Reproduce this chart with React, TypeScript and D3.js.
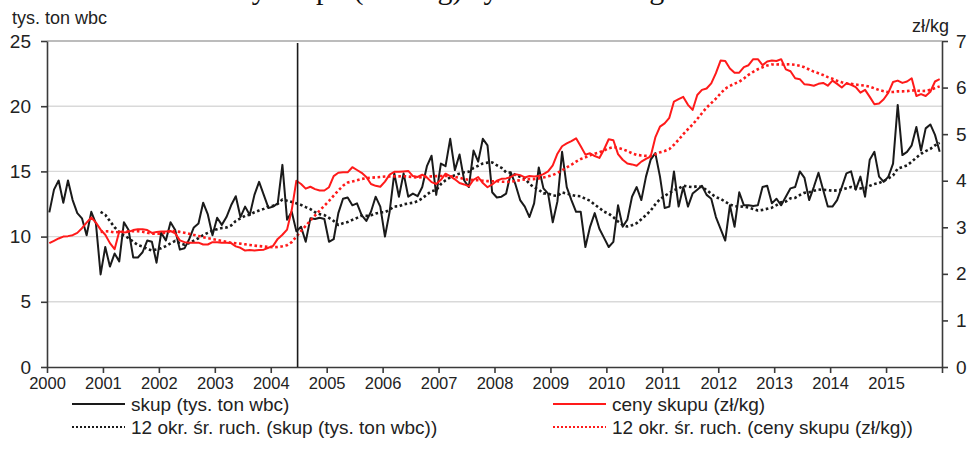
import React, { useEffect, useRef } from "react";
import * as d3 from "d3";

// monthly data, Jan 2000 - Dec 2015
const startYear = 2000;
const yearLabels = ["2000", "2001", "2002", "2003", "2004", "2005", "2006", "2007", "2008", "2009", "2010", "2011", "2012", "2013", "2014", "2015"];
const leftTicks = [0, 5, 10, 15, 20, 25];
const rightTicks = [0, 1, 2, 3, 4, 5, 6, 7];

// skup (tys. ton wbc)
const skup = [
  11.86, 13.6, 14.3, 12.6, 14.3, 12.8, 11.8, 11.4, 10.1, 11.9, 11.0, 7.1,
  9.2, 7.7, 8.7, 8.1, 11.1, 10.5, 8.4, 8.4, 8.8, 9.7, 9.6, 8.0,
  10.3, 9.7, 11.1, 10.5, 9.0, 9.1, 9.8, 10.7, 11.0, 12.6, 11.7, 10.1,
  11.45, 10.9, 11.5, 12.4, 13.1, 11.5, 12.3, 11.65, 13.2, 14.2, 13.2, 12.2,
  12.3, 12.55, 15.5, 11.3, 11.9, 10.4, 10.75, 9.6, 11.4, 11.35, 11.45, 11.35,
  9.6, 9.8, 11.8, 12.9, 13.0, 12.4, 12.55, 11.65, 11.2, 11.9, 13.06, 12.3,
  10.0, 11.9, 14.85, 13.06, 14.85, 13.06, 13.3, 13.1, 13.8, 15.4, 16.2, 13.2,
  15.6, 15.4, 17.5, 15.1, 16.3, 14.3, 13.8, 16.6, 15.75, 17.5, 17.0, 13.4,
  13.0, 13.06, 13.3, 14.9, 14.0, 12.8, 12.3, 11.5, 12.55, 15.3, 13.7, 13.3,
  11.1, 12.7, 16.5, 13.8, 12.8, 11.9, 11.9, 9.2, 10.75, 11.8, 10.6, 9.9,
  9.2, 9.6, 12.4, 10.75, 11.3, 13.06, 13.8, 12.8, 14.6, 15.9, 16.4, 14.6,
  12.2, 12.3, 15.0, 12.3, 13.8, 12.3, 13.3, 13.6, 13.9, 13.2, 12.9, 11.5,
  10.6, 9.7, 12.4, 10.75, 13.4, 12.4, 12.4, 12.35, 12.4, 13.8, 13.9, 12.55,
  12.9, 12.4, 13.06, 13.7, 13.8, 15.0, 14.5, 12.8, 13.8, 14.9, 13.6, 12.3,
  12.3, 12.8, 13.8, 14.85, 15.0, 13.6, 14.6, 13.06, 15.9, 16.5, 14.6, 14.2,
  14.6, 15.6, 20.1, 16.25, 16.5, 17.0, 18.4, 16.6, 18.3, 18.6, 17.8, 16.5,
];

// ceny skupu (zł/kg)
const ceny = [
  2.66, 2.71, 2.76, 2.8, 2.81, 2.83, 2.88, 2.98, 3.1, 3.21, 3.1, 2.95,
  2.84, 2.66, 2.53, 2.91, 2.89, 2.9, 2.94, 2.96, 2.96, 2.94, 2.88, 2.9,
  2.91, 2.91, 2.92, 2.87, 2.72, 2.68, 2.67, 2.67, 2.67, 2.63, 2.63, 2.68,
  2.68, 2.67, 2.67, 2.66, 2.59, 2.56, 2.5, 2.51, 2.5, 2.51, 2.52, 2.56,
  2.6, 2.75, 2.84, 2.95, 3.37, 4.0, 3.93, 3.83, 3.87, 3.82, 3.79, 3.79,
  3.86, 4.1, 4.17, 4.18, 4.18, 4.29, 4.23, 4.17, 4.08, 3.93, 3.89, 3.87,
  3.98, 4.13, 4.19, 4.19, 4.2, 4.21, 4.1, 4.08, 4.13, 4.07, 3.97, 3.93,
  4.02, 4.15, 4.1, 4.03, 3.95, 3.92, 3.88, 4.02, 4.08, 3.95, 3.86, 3.92,
  4.0, 4.04, 4.05, 4.08, 4.14, 4.12, 4.07, 4.1, 4.09, 4.1, 4.14, 4.2,
  4.33, 4.58, 4.74, 4.8, 4.85, 4.91, 4.74, 4.56, 4.59, 4.53, 4.49, 4.67,
  4.89, 4.87, 4.57, 4.45, 4.37, 4.35, 4.32, 4.41, 4.47, 4.52, 4.93, 5.16,
  5.23, 5.35, 5.7, 5.75, 5.8, 5.63, 5.52, 5.84, 5.95, 5.98, 6.09, 6.31,
  6.58, 6.57, 6.41, 6.32, 6.32, 6.44, 6.48, 6.61, 6.61, 6.48, 6.56, 6.58,
  6.57, 6.61, 6.39, 6.35, 6.2, 6.18, 6.07, 6.06, 6.04, 6.08, 6.1, 6.04,
  6.15, 6.08, 6.0, 6.09, 6.06, 6.01, 5.89, 5.95, 5.8, 5.64, 5.66, 5.75,
  5.89, 6.12, 6.15, 6.1, 6.13, 6.2, 5.82, 5.86, 5.82, 5.91, 6.13, 6.18,
];

const maPeriod = 12;
const markerYear = 2004.48; // vertical line (mid 2004)

const legendItems = [
  { label: "skup (tys. ton wbc)", color: "#1a1a1a", dotted: false, col: 0, row: 0 },
  { label: "ceny skupu (zł/kg)", color: "#ff1a1a", dotted: false, col: 1, row: 0 },
  { label: "12 okr. śr. ruch. (skup (tys. ton wbc))", color: "#1a1a1a", dotted: true, col: 0, row: 1 },
  { label: "12 okr. śr. ruch. (ceny skupu (zł/kg))", color: "#ff1a1a", dotted: true, col: 1, row: 1 },
];

const font = "'Liberation Sans', Arial, sans-serif";

// trailing moving average, as the spreadsheet trendline does
const movingAverage = (arr: number[], n: number) =>
  arr.map((_, i) => (i < n - 1 ? null : d3.mean(arr.slice(i - n + 1, i + 1)) as number));

const App = () => {
  const svgRef = useRef<SVGSVGElement>(null);

  useEffect(() => {
    const width = 971;
    const height = 459;
    const margin = { top: 41, right: 29, bottom: 92, left: 47 };

    const svg = d3.select(svgRef.current).attr("width", width).attr("height", height);
    svg.selectAll("*").remove();

    const x = d3
      .scaleLinear()
      .domain([0, skup.length])
      .range([margin.left, width - margin.right]);
    const yLeft = d3
      .scaleLinear()
      .domain([0, 25])
      .range([height - margin.bottom, margin.top]);
    const yRight = d3
      .scaleLinear()
      .domain([0, 7])
      .range([height - margin.bottom, margin.top]);

    // title, cut off by the top edge in the source image
    svg
      .append("text")
      .attr("x", 111)
      .attr("y", -1.5)
      .attr("font-family", "'Liberation Serif', 'Times New Roman', serif")
      .attr("font-size", 30)
      .attr("fill", "#111")
      .text("Średnie ceny skupu (w zł/kg) żywca wołowego");

    // gridlines
    svg
      .append("g")
      .selectAll("line")
      .data(leftTicks.filter((d) => d > 0))
      .enter()
      .append("line")
      .attr("x1", margin.left)
      .attr("x2", width - margin.right)
      .attr("y1", (d) => yLeft(d))
      .attr("y2", (d) => yLeft(d))
      .attr("stroke", (d) => (d === 25 ? "#a6a6a6" : "#d9d9d9"))
      .attr("stroke-width", 1.4);

    // axes
    const styleAxis = (g: any, size: number) => {
      g.selectAll(".domain").attr("stroke", "#3a3a3a").attr("stroke-width", 1.6);
      g.selectAll(".tick line").attr("stroke", "#3a3a3a").attr("stroke-width", 1.6);
      g.selectAll(".tick text")
        .attr("font-family", font)
        .attr("font-size", size)
        .attr("fill", "#222");
    };

    const xAxis = d3
      .axisBottom(x)
      .tickValues(d3.range(0, skup.length + 1, 12))
      .tickFormat((d, i) => yearLabels[i] ?? "")
      .tickSize(6)
      .tickSizeOuter(0)
      .tickPadding(4);
    svg
      .append("g")
      .attr("transform", `translate(0,${height - margin.bottom})`)
      .call(xAxis)
      .call((g) => styleAxis(g, 16.5));

    const leftAxis = d3
      .axisLeft(yLeft)
      .tickValues(leftTicks)
      .tickFormat(d3.format("d"))
      .tickSize(6)
      .tickSizeOuter(0)
      .tickPadding(10);
    svg
      .append("g")
      .attr("transform", `translate(${margin.left},0)`)
      .call(leftAxis)
      .call((g) => styleAxis(g, 19));

    const rightAxis = d3
      .axisRight(yRight)
      .tickValues(rightTicks)
      .tickFormat(d3.format("d"))
      .tickSize(6)
      .tickSizeOuter(0)
      .tickPadding(8);
    svg
      .append("g")
      .attr("transform", `translate(${width - margin.right},0)`)
      .call(rightAxis)
      .call((g) => styleAxis(g, 19));

    // axis units
    svg
      .append("text")
      .attr("x", 12)
      .attr("y", 24)
      .attr("font-family", font)
      .attr("font-size", 18)
      .attr("fill", "#222")
      .text("tys. ton wbc");
    svg
      .append("text")
      .attr("x", 949)
      .attr("y", 32)
      .attr("text-anchor", "end")
      .attr("font-family", font)
      .attr("font-size", 18)
      .attr("fill", "#222")
      .text("zł/kg");

    // series
    const lineFor = (scale: d3.ScaleLinear<number, number>) =>
      d3
        .line<number | null>()
        .defined((d) => d != null)
        .x((d, i) => x(i + 0.5))
        .y((d) => scale(d as number));

    const series = [
      { values: skup, scale: yLeft, color: "#1a1a1a", dotted: false },
      { values: movingAverage(skup, maPeriod), scale: yLeft, color: "#1a1a1a", dotted: true },
      { values: ceny, scale: yRight, color: "#ff1a1a", dotted: false },
      { values: movingAverage(ceny, maPeriod), scale: yRight, color: "#ff1a1a", dotted: true },
    ];

    series.forEach((s) => {
      svg
        .append("path")
        .datum(s.values as (number | null)[])
        .attr("fill", "none")
        .attr("stroke", s.color)
        .attr("stroke-width", s.dotted ? 2.6 : 2)
        .attr("stroke-dasharray", s.dotted ? "2.6 2.6" : null)
        .attr("stroke-linejoin", "round")
        .attr("d", lineFor(s.scale));
    });

    // vertical marker line
    const mx = x((markerYear - startYear) * 12);
    svg
      .append("line")
      .attr("x1", mx)
      .attr("x2", mx)
      .attr("y1", margin.top + 2)
      .attr("y2", height - margin.bottom)
      .attr("stroke", "#1a1a1a")
      .attr("stroke-width", 1.6);

    // legend
    const legend = svg.append("g");
    const colX = [72, 553];
    const rowY = [404, 427];
    legendItems.forEach((item) => {
      const lx = colX[item.col];
      const ly = rowY[item.row];
      legend
        .append("line")
        .attr("x1", lx)
        .attr("x2", lx + 53)
        .attr("y1", ly)
        .attr("y2", ly)
        .attr("stroke", item.color)
        .attr("stroke-width", item.dotted ? 2 : 2.2)
        .attr("stroke-dasharray", item.dotted ? "2 2" : null);
      legend
        .append("text")
        .attr("x", lx + 59)
        .attr("y", ly)
        .attr("dy", "0.35em")
        .attr("font-family", font)
        .attr("font-size", 19)
        .attr("fill", "#222")
        .text(item.label);
    });
  }, []);

  return <svg ref={svgRef} style={{ position: "absolute", left: 0, top: 0, background: "#fff" }}></svg>;
};

export default App;
